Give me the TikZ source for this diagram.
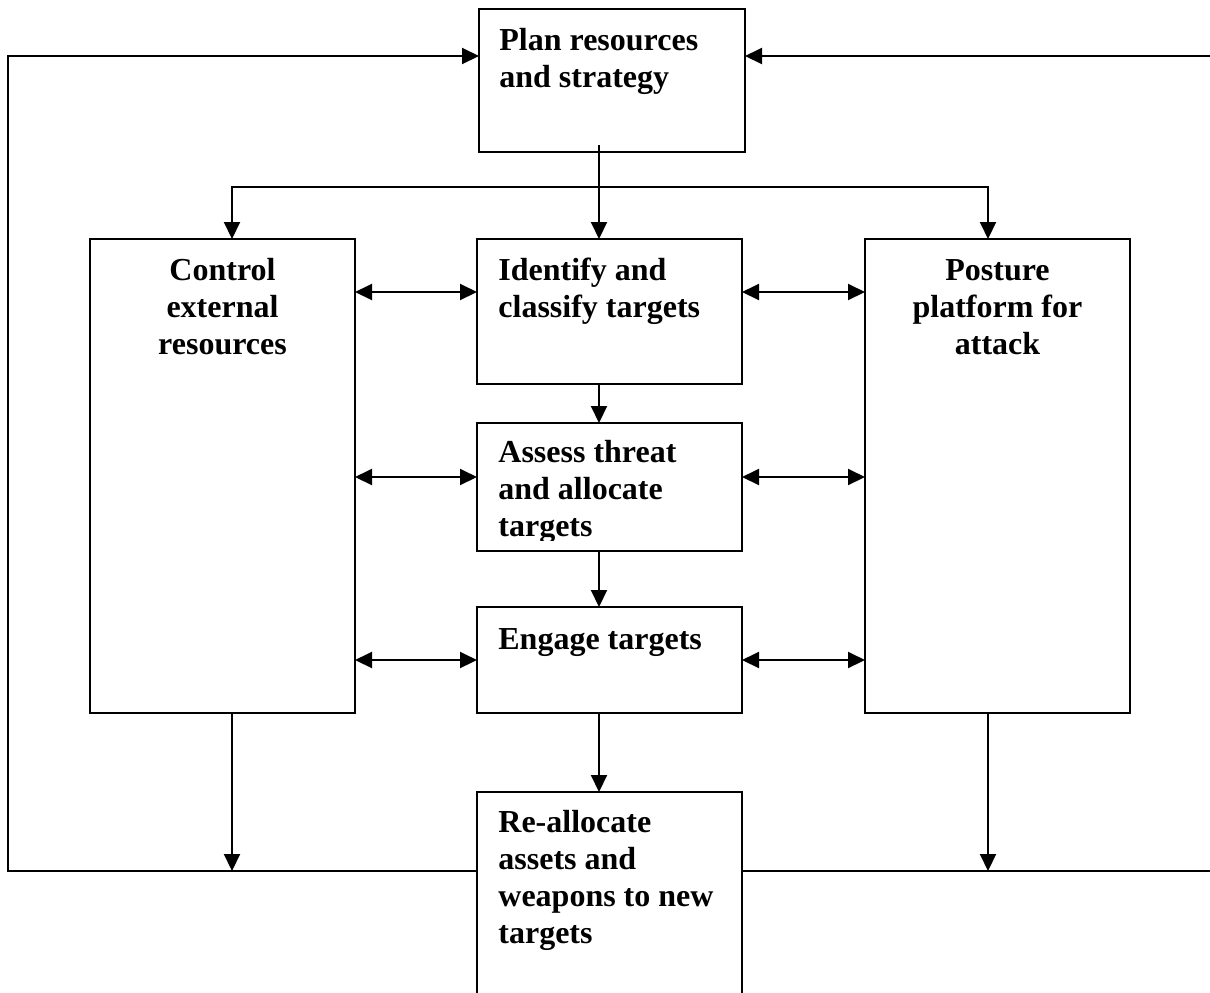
\documentclass[tikz,border=0pt]{standalone}
\usepackage{fontspec}
\setmainfont{Liberation Serif}
\usetikzlibrary{arrows.meta}
\begin{document}
\begin{tikzpicture}[x=0.5pt,y=-0.5pt,
  box/.style={draw, line width=1pt, anchor=north west, inner sep=0pt, outer sep=0pt},
  txt/.style={anchor=base west, inner sep=0pt, font=\fontsize{16pt}{18.5pt}\selectfont\bfseries},
  ctxt/.style={anchor=base, inner sep=0pt, font=\fontsize{16pt}{18.5pt}\selectfont\bfseries},
  conn/.style={line width=1pt},
  arr/.style={conn, -{Triangle[length=8.5pt,width=8pt]}},
  dbl/.style={conn, {Triangle[length=8.5pt,width=8pt]}-{Triangle[length=8.5pt,width=8pt]}}]
\clip (0,0) rectangle (1210,992);
% boxes
\node[box, minimum width=133pt, minimum height=71.5pt] (plan) at (479,9) {};
\node[box, minimum width=132.5pt, minimum height=237pt] (ctrl) at (90,239) {};
\node[box, minimum width=132.5pt, minimum height=72.5pt] (ident) at (477,239) {};
\node[box, minimum width=132.5pt, minimum height=64pt] (assess) at (477,423) {};
\node[box, minimum width=132.5pt, minimum height=53pt] (engage) at (477,607) {};
\node[box, minimum width=132.5pt, minimum height=237pt] (post) at (865,239) {};
\node[box, minimum width=132.5pt, minimum height=120pt] (realloc) at (477,792) {};
% texts
\node[txt] (plant) at (499,50) {\parbox[t]{122pt}{\raggedright Plan resources\\and strategy}};
\node[ctxt] (ctrlt) at (222.5,280) {\parbox[t]{128pt}{\centering Control\\external\\resources}};
\node[txt] (identt) at (498,280) {\parbox[t]{122pt}{\raggedright Identify and\\classify targets}};
\begin{scope}
\clip (477,423) rectangle (742,540);
\node[txt] (assesst) at (498,462) {\parbox[t]{122pt}{\raggedright Assess threat\\and allocate\\targets}};
\end{scope}
\node[txt] (engaget) at (498,649) {\parbox[t]{122pt}{\raggedright Engage targets}};
\node[ctxt] (postt) at (997.5,280) {\parbox[t]{128pt}{\centering Posture\\platform for\\attack}};
\node[txt] (realloct) at (498,832) {\parbox[t]{122pt}{\raggedright Re-allocate\\assets and\\weapons to new\\targets}};
% helper coordinates
\coordinate (xc) at (232,187);
\coordinate (xm) at (599,187);
\coordinate (xp) at (988,187);
\coordinate (pm) at (599,145);
\coordinate (L1) at (8,871);
\coordinate (L2) at (8,56);
\coordinate (R1) at (1216,871);
\coordinate (R2) at (1216,56);
\coordinate (y1) at (0,292);
\coordinate (y2) at (0,477);
\coordinate (y3) at (0,660);
% outer loop
\draw[arr] (realloc.west |- L1) -- (L1) -- (L2) -- (plan.west |- L2);
\draw[arr] (realloc.east |- R1) -- (R1) -- (R2) -- (plan.east |- R2);
% distribution
\draw[arr] (pm) -- (xm |- ident.north);
\draw[dbl] (xc |- ctrl.north) -- (xc) -- (xp) -- (xp |- post.north);
% middle column
\draw[arr] (xm |- ident.south) -- (xm |- assess.north);
\draw[arr] (xm |- assess.south) -- (xm |- engage.north);
\draw[arr] (xm |- engage.south) -- (xm |- realloc.north);
% side columns down
\draw[arr] (xc |- ctrl.south) -- (xc |- L1);
\draw[arr] (xp |- post.south) -- (xp |- L1);
% double arrows
\draw[dbl] (ctrl.east |- y1) -- (ident.west |- y1);
\draw[dbl] (ident.east |- y1) -- (post.west |- y1);
\draw[dbl] (ctrl.east |- y2) -- (assess.west |- y2);
\draw[dbl] (assess.east |- y2) -- (post.west |- y2);
\draw[dbl] (ctrl.east |- y3) -- (engage.west |- y3);
\draw[dbl] (engage.east |- y3) -- (post.west |- y3);
\end{tikzpicture}
\end{document}
